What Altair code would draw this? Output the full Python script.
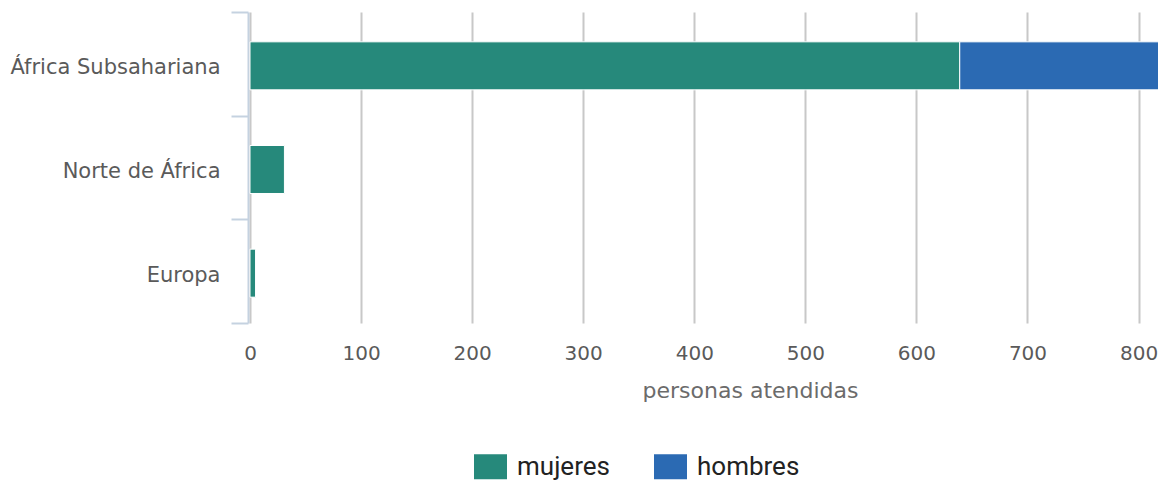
import altair as alt
import pandas as pd

regions = ["África Subsahariana", "Norte de África", "Europa"]
mujeres = [639, 31, 5]
hombres = [183, 0, 0]
series = ["mujeres", "hombres"]
colors = ["#26897b", "#2b6ab3"]
x_ticks = [0, 100, 200, 300, 400, 500, 600, 700, 800]

rows = []
for r, m, h in zip(regions, mujeres, hombres):
    rows.append({"region": r, "sexo": "mujeres", "valor": m, "orden": 0})
    if h > 0:
        rows.append({"region": r, "sexo": "hombres", "valor": h, "orden": 1})
df = pd.DataFrame(rows)

chart = alt.Chart(df).mark_bar(stroke="white", strokeWidth=1, clip=False, yOffset=2,
                               height=alt.RelativeBandSize(0.463)).encode(
    y=alt.Y("region:N", sort=regions, title=None,
            scale=alt.Scale(paddingInner=0, paddingOuter=0),
            axis=alt.Axis(tickBand="extent", domainColor="#c5d2e0", domainWidth=2,
                          tickColor="#c5d2e0", tickWidth=2, tickSize=17,
                          labelPadding=11, labelFontSize=21, labelColor="#5a5a5a",
                          labelFont="DejaVu Sans", labelLimit=400, labelOffset=4,
                          grid=False, offset=2)),
    x=alt.X("valor:Q", stack="zero", title="personas atendidas",
            scale=alt.Scale(domain=[0, 817.5], nice=False),
            axis=alt.Axis(values=x_ticks, grid=True, gridColor="#c8c8c8", gridWidth=2,
                          domain=False, ticks=False, labelPadding=20, labelFlush=False,
                          labelFontSize=20, labelColor="#5a5a5a", labelFont="DejaVu Sans",
                          labelFontWeight="normal",
                          titleFont="DejaVu Sans", titleFontSize=22, titleColor="#6b6b6b",
                          titleFontWeight="normal", titleX=500, titleY=67,
                          titleAlign="center", titleBaseline="middle")),
    color=alt.Color("sexo:N", sort=series,
                    scale=alt.Scale(domain=series, range=colors),
                    legend=alt.Legend(title=None, orient="none", direction="horizontal",
                                      legendX=224, legendY=438,
                                      symbolType="M-1,-0.76H1V0.76H-1Z", symbolSize=1089,
                                      symbolStrokeWidth=0, symbolOpacity=1,
                                      labelFont="Roboto", labelFontSize=26,
                                      labelColor="#222222", labelOffset=10,
                                      columnPadding=44)),
    order=alt.Order("orden:Q"),
).properties(
    width=908, height=311,
    autosize=alt.AutoSizeParams(type="none"),
    padding={"left": 242, "top": 4, "right": 0, "bottom": 158},
).configure_view(stroke=None)

chart.save("out.html", embed_options={"renderer": "svg", "actions": False})
